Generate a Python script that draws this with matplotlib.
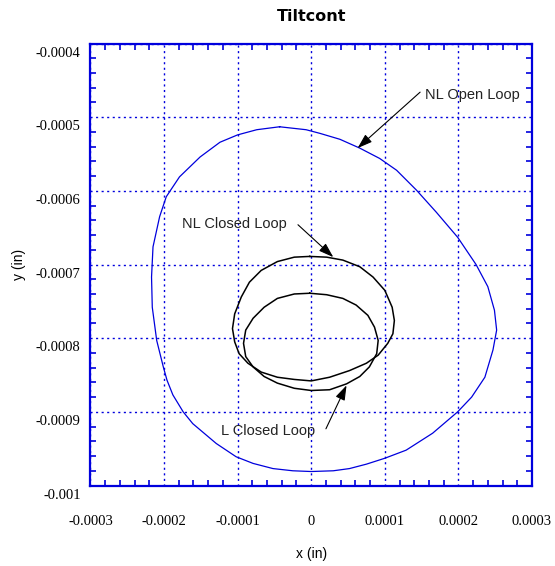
import matplotlib
matplotlib.use("Agg")
import matplotlib.pyplot as plt
from matplotlib.ticker import FixedLocator, FixedFormatter, MultipleLocator
from matplotlib.transforms import ScaledTranslation
import numpy as np

# values in micro-inches
open_x = [-43, -7, 12, 39, 66, 93, 116, 143, 170, 199, 224, 240, 249, 252, 247, 236,
          218, 199, 165, 129, 100, 75, 52, 30, 0, -25, -52, -79, -102, -129, -161,
          -174, -188, -196, -201, -210, -216, -217, -215, -206, -197, -179, -151,
          -124, -100, -74]
open_y = [-513, -517, -522, -530, -542, -556, -572, -599, -629, -663, -700, -730,
          -762, -789, -816, -853, -880, -900, -929, -952, -963, -971, -977, -980,
          -981, -980, -977, -970, -961, -943, -916, -900, -877, -857, -839, -803,
          -758, -717, -676, -635, -608, -581, -554, -534, -524, -517]

nl_closed_x = [-2, 21, 43, 66, 84, 100, 110, 113, 111, 104, 91, 75, 52, 25, 0, -23,
               -46, -68, -86, -98, -104, -107, -104, -95, -84, -68, -46, -23]
nl_closed_y = [-689, -690, -694, -703, -717, -735, -758, -776, -794, -807, -823, -834,
               -844, -853, -858, -856, -853, -846, -834, -821, -805, -787, -767, -744,
               -724, -708, -696, -690]

l_closed_x = [-2, 21, 43, 61, 77, 86, 91, 89, 79, 66, 48, 25, 0, -23, -46, -64, -79,
              -89, -92, -89, -79, -64, -46, -23]
l_closed_y = [-739, -741, -746, -755, -769, -785, -803, -821, -839, -852, -862, -870,
              -871, -868, -861, -852, -839, -825, -807, -789, -773, -758, -746, -740]

xticks = [-0.0003, -0.0002, -0.0001, 0, 0.0001, 0.0002, 0.0003]
xlabels = ["-0.0003", "-0.0002", "-0.0001", "0", "0.0001", "0.0002", "0.0003"]
yticks = [-0.001, -0.0009, -0.0008, -0.0007, -0.0006, -0.0005, -0.0004]
ylabels = ["-0.001", "-0.0009", "-0.0008", "-0.0007", "-0.0006", "-0.0005", "-0.0004"]

# annotations: (text, text pos, arrow tail, arrow tip) in micro-inches
notes = [
    ("NL Open Loop", (154, -470), (148, -466), (63, -542)),
    ("NL Closed Loop", (-176, -645), (-18, -646), (30, -690)),
    ("L Closed Loop", (-122, -926), (20, -923), (48, -864)),
]


def closed(v):
    a = np.asarray(v, dtype=float) * 1e-6
    return np.append(a, a[0])


blue = "#0000dd"
fig = plt.figure(figsize=(5.55, 5.66), dpi=100)
ax = fig.add_axes([0.163, 0.1422, 0.7955, 0.7809])

ax.plot(closed(open_x), closed(open_y), color=blue, lw=0.9)
ax.plot(closed(nl_closed_x), closed(nl_closed_y), color="black", lw=1.1)
ax.plot(closed(l_closed_x), closed(l_closed_y), color="black", lw=1.1)

for txt, tpos, tail, tip in notes:
    ax.text(tpos[0] * 1e-6, tpos[1] * 1e-6, txt, fontsize=10.5, color="#222222",
            family="Liberation Sans", va="center", ha="left")
    ax.annotate("", xy=(tip[0] * 1e-6, tip[1] * 1e-6),
                xytext=(tail[0] * 1e-6, tail[1] * 1e-6),
                arrowprops=dict(arrowstyle="-|>,head_length=0.9,head_width=0.3",
                                color="black", lw=0.8, shrinkA=0, shrinkB=0))

ax.set_xlim(-0.0003, 0.0003)
ax.set_ylim(-0.001, -0.0004)
ax.xaxis.set_major_locator(FixedLocator(xticks))
ax.xaxis.set_major_formatter(FixedFormatter(xlabels))
ax.yaxis.set_major_locator(FixedLocator(yticks))
ax.yaxis.set_major_formatter(FixedFormatter(ylabels))
ax.xaxis.set_minor_locator(MultipleLocator(0.00002))
ax.yaxis.set_minor_locator(MultipleLocator(0.00002))

ax.grid(True, which="major", color=blue, linestyle=(0, (1.5, 2.5)), lw=1.0)
ax.tick_params(which="major", length=0, labelsize=10.5)
ax.tick_params(which="minor", direction="in", length=4.5, width=1.2, color=blue,
               top=True, right=True)
ax.tick_params(axis="x", pad=21)
ax.tick_params(axis="y", pad=7)
for lab in ax.get_xticklabels() + ax.get_yticklabels():
    lab.set_family("Liberation Serif")
# y tick labels sit a little below their grid lines in the reference
shift = ScaledTranslation(0, -8 / 100, fig.dpi_scale_trans)
for lab in ax.get_yticklabels():
    lab.set_transform(lab.get_transform() + shift)
for s in ax.spines.values():
    s.set_color(blue)
    s.set_linewidth(1.6)

ax.set_xlabel("x (in)", family="Liberation Sans", fontsize=10, labelpad=14)
ax.set_ylabel("y (in)", family="Liberation Sans", fontsize=10, labelpad=7)
ax.set_title("Tiltcont", family="DejaVu Sans", fontweight="bold", fontsize=11.5, pad=16)

fig.savefig("out.png", dpi=100)
